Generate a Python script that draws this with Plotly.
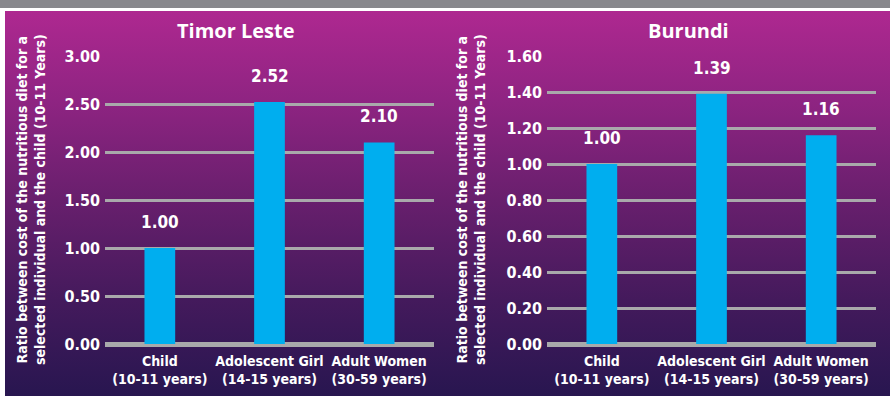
import base64
import plotly.graph_objects as go

# Data
categories = ["Child<br>(10-11 years)", "Adolescent Girl<br>(14-15 years)", "Adult Women<br>(30-59 years)"]
timor_values = [1.00, 2.52, 2.10]
burundi_values = [1.00, 1.39, 1.16]
panel_titles = ["Timor Leste", "Burundi"]
timor_ticks = [0.0, 0.5, 1.0, 1.5, 2.0, 2.5, 3.0]
burundi_ticks = [0.0, 0.2, 0.4, 0.6, 0.8, 1.0, 1.2, 1.4, 1.6]
y_title = "Ratio between cost of the nutritious diet for a<br>selected individual and the child (10-11 Years)"

W, H = 890, 396
BAR = "#00aeef"
GRID = "#a9a9ab"
NARROW = "DejaVu Sans Condensed, Liberation Sans Narrow, sans-serif"
WIDE = "Open Sans, Liberation Sans, sans-serif"

fig = go.Figure()

for vals, xa, ya in [(timor_values, "x", "y"), (burundi_values, "x2", "y2")]:
    fig.add_trace(go.Bar(x=categories, y=vals, width=0.28, xaxis=xa, yaxis=ya,
                         marker=dict(color=BAR, line=dict(width=0)),
                         hoverinfo="skip"))

# Background: grey strip on top, white rule, then a magenta-to-indigo gradient
svg = f"""<svg xmlns='http://www.w3.org/2000/svg' width='{W}' height='{H}' viewBox='0 0 {W} {H}' preserveAspectRatio='none'>
<defs><linearGradient id='g' x1='0' y1='0' x2='0' y2='1'>
<stop offset='0' stop-color='rgb(174,40,144)'/>
<stop offset='0.23' stop-color='rgb(143,36,130)'/>
<stop offset='0.49' stop-color='rgb(104,31,109)'/>
<stop offset='0.75' stop-color='rgb(68,26,92)'/>
<stop offset='1' stop-color='rgb(40,22,80)'/>
</linearGradient></defs>
<rect x='0' y='0' width='{W}' height='{H}' fill='white'/>
<rect x='0' y='0' width='{W}' height='8' fill='#88888c'/>
<rect x='5' y='11' width='{W - 5}' height='{H - 11}' fill='url(#g)'/>
</svg>"""
bg_uri = "data:image/svg+xml;base64," + base64.b64encode(svg.encode()).decode()

annotations = []
# panel titles
for title, cx in zip(panel_titles, [236, 688]):
    annotations.append(dict(text="<b>%s</b>" % title, xref="paper", yref="paper",
                            x=cx / W, y=1 - 30 / H, showarrow=False,
                            font=dict(family=WIDE, size=20, color="white"),
                            xanchor="center", yanchor="middle"))
# rotated axis titles
for cx in [31, 471]:
    annotations.append(dict(text="<b>%s</b>" % y_title, xref="paper", yref="paper",
                            x=cx / W, y=1 - 200 / H, showarrow=False, textangle=-90,
                            font=dict(family=NARROW, size=14, color="white"),
                            xanchor="center", yanchor="middle"))
# value labels above bars
for xa, ya, vals in [("x", "y", timor_values), ("x2", "y2", burundi_values)]:
    for cat, v in zip(categories, vals):
        annotations.append(dict(text="<b>%.2f</b>" % v, xref=xa, yref=ya, x=cat, y=v,
                                showarrow=False, yshift=26,
                                font=dict(family=NARROW, size=17, color="white"),
                                xanchor="center", yanchor="middle"))

ydom = [1 - 344 / H, 1 - 56 / H]


def yaxis(rng, ticks, anchor):
    return dict(domain=ydom, range=rng, anchor=anchor, tickvals=ticks,
                ticktext=["<b>%.2f</b>" % t for t in ticks],
                tickfont=dict(family=NARROW, size=16, color="white"),
                ticklabelstandoff=4,
                showgrid=True, gridcolor=GRID, gridwidth=2.5,
                zeroline=True, zerolinecolor=GRID, zerolinewidth=5,
                showline=False, ticks="", fixedrange=True, automargin=False)


def xaxis(dom, anchor):
    return dict(domain=dom, anchor=anchor, tickvals=categories,
                ticktext=["<b>%s</b>" % c for c in categories],
                tickfont=dict(family=NARROW, size=14, color="white"),
                ticklabelstandoff=7, tickangle=0, showgrid=False, showline=False,
                ticks="", fixedrange=True, automargin=False)


fig.update_layout(
    width=W, height=H, autosize=False,
    margin=dict(l=0, r=0, t=0, b=0, pad=0, autoexpand=False),
    paper_bgcolor="white", plot_bgcolor="rgba(0,0,0,0)",
    showlegend=False,
    xaxis=xaxis([105 / W, 434 / W], "y"),
    yaxis=yaxis([0, 3], timor_ticks, "x"),
    xaxis2=xaxis([547 / W, 876 / W], "y2"),
    yaxis2=yaxis([0, 1.6], burundi_ticks, "x2"),
    images=[dict(source=bg_uri, xref="paper", yref="paper", x=0, y=1,
                 sizex=1, sizey=1, xanchor="left", yanchor="top",
                 sizing="stretch", layer="below")],
    annotations=annotations,
)

fig.write_html("out.html", config={"displayModeBar": False})
